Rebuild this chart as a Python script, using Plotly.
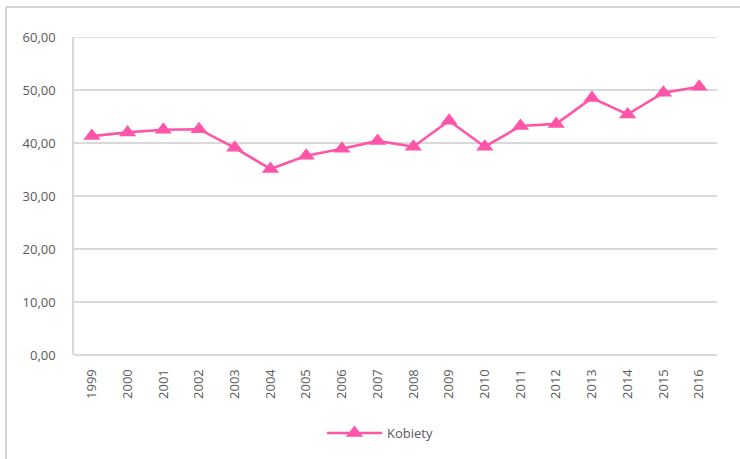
import plotly.graph_objects as go

years = ["1999", "2000", "2001", "2002", "2003", "2004", "2005", "2006", "2007",
         "2008", "2009", "2010", "2011", "2012", "2013", "2014", "2015", "2016"]
kobiety = [41.3, 42.0, 42.5, 42.6, 39.1, 35.1, 37.6, 38.9, 40.4,
           39.3, 44.2, 39.3, 43.2, 43.6, 48.5, 45.4, 49.5, 50.6]
series_name = "Kobiety"
y_ticks = [0, 10, 20, 30, 40, 50, 60]
y_tick_labels = ["0,00", "10,00", "20,00", "30,00", "40,00", "50,00", "60,00"]

PINK = "#FF55A8"
GRID = "#D9D9D9"
TXT = "#595959"
FONT = "Open Sans"

fig = go.Figure()
fig.add_trace(go.Scatter(
    x=years, y=kobiety, name=series_name, mode="lines+markers",
    line=dict(color=PINK, width=2.6),
    marker=dict(symbol="triangle-up", size=15, color=PINK),
))

L, R, T, B = 74, 23, 37, 104
W, H = 740, 459
pw, ph = W - L - R, H - T - B

def px(x):
    return (x - L) / pw

def py(y):
    return (H - B - y) / ph

# outer chart frame: only top and left edges are visible in the reference
fig.add_shape(type="line", xref="paper", yref="paper",
              x0=px(6), x1=px(W + 20), y0=py(7), y1=py(7),
              line=dict(color="#D4D4D4", width=2), layer="below")
fig.add_shape(type="line", xref="paper", yref="paper",
              x0=px(6), x1=px(6), y0=py(7), y1=py(H + 20),
              line=dict(color="#D4D4D4", width=2), layer="below")
# top gridline (at the range edge)
fig.add_shape(type="line", xref="paper", yref="y", x0=0, x1=1,
              y0=y_ticks[-1], y1=y_ticks[-1],
              line=dict(color=GRID, width=1.5), layer="below")

fig.update_layout(
    width=W, height=H,
    margin=dict(l=L, r=R, t=T, b=B, autoexpand=False),
    paper_bgcolor="white", plot_bgcolor="white",
    font=dict(family=FONT, size=13, color=TXT),
    showlegend=True,
    legend=dict(orientation="h", x=px(380), xanchor="center", y=py(433), yanchor="middle",
                font=dict(family=FONT, size=13, color=TXT), itemwidth=55),
    xaxis=dict(type="category", showgrid=False, showline=False, zeroline=False,
               automargin=False,
               tickangle=-90, ticks="outside", ticklen=8, tickcolor="rgba(0,0,0,0)",
               tickfont=dict(family=FONT, size=13, color=TXT), range=[-0.5, 17.5]),
    yaxis=dict(range=[0, 60], tickvals=y_ticks, ticktext=y_tick_labels,
               automargin=False,
               showgrid=True, gridcolor=GRID, gridwidth=1.5,
               showline=True, linecolor=GRID, linewidth=1.5,
               zeroline=True, zerolinecolor=GRID, zerolinewidth=1.5,
               ticks="outside", ticklen=14, tickcolor="rgba(0,0,0,0)",
               tickfont=dict(family=FONT, size=13, color=TXT)),
)

fig.write_html("out.html", config={"displayModeBar": False},
               post_script="document.body.style.margin='0';document.body.style.padding='0';")
